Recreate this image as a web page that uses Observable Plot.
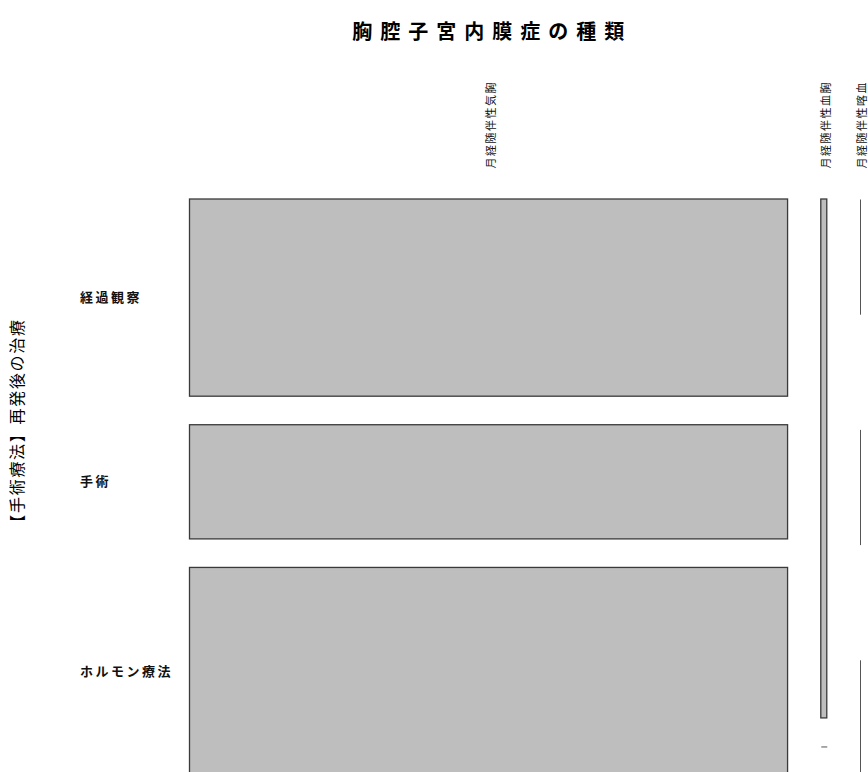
<!DOCTYPE html>
<html>
<head>
<meta charset="utf-8">
<script src="https://cdn.jsdelivr.net/npm/d3@7"></script>
<script src="https://cdn.jsdelivr.net/npm/@observablehq/plot@0.6"></script>
<style>
  body { margin: 0; background: #fff; overflow: hidden; }
</style>
</head>
<body>
<div id="chart"></div>
<script>
// ---- data ----
const title = "胸腔子宮内膜症の種類";
const yTitle = "【手術療法】再発後の治療";
const columns = ["月経随伴性気胸", "月経随伴性血胸", "月経随伴性喀血"];
const rows = ["経過観察", "手術", "ホルモン療法"];
const countsKikyo = [38, 22, 40];     // 月経随伴性気胸
const countsKekkyo = [1, 0, 0];       // 月経随伴性血胸
const countsKakketsu = [0, 0, 0];     // 月経随伴性喀血

// ---- mosaic layout (in relative data units) ----
const seriesByColumn = [countsKikyo, countsKekkyo, countsKakketsu];
const gap = 0.055;
const N = d3.sum(seriesByColumn.flat());
const xExt = 1 + gap * (columns.length - 1);
const yExt = 1 + gap * (rows.length - 1);

const cells = [], zeros = [], colLabels = [], rowLabels = [];
let cx = 0;
seriesByColumn.forEach((vals, i) => {
  const tot = d3.sum(vals);
  const x1 = cx, x2 = cx + tot / N;
  colLabels.push({label: columns[i], x: (x1 + x2) / 2});
  let cy = 0;
  vals.forEach((v, j) => {
    let y1, y2;
    if (tot === 0) {
      const p = yExt / (2 * rows.length - 1);
      y1 = 2 * j * p; y2 = y1 + p;
    } else {
      y1 = cy; y2 = cy + v / tot; cy = y2 + gap;
    }
    const cell = {col: columns[i], row: rows[j], value: v, x1, x2, y1, y2};
    if (x2 > x1 && y2 > y1) cells.push(cell); else zeros.push(cell);
    if (i === 0) rowLabels.push({label: rows[j], y: (y1 + y2) / 2});
  });
  cx = x2 + gap;
});

const plot = Plot.plot({
  width: 868,
  height: 772,
  marginTop: 199,
  marginLeft: 189.5,
  marginRight: 8,
  marginBottom: 0,
  style: {fontFamily: "'Noto Sans CJK JP', 'Noto Sans', sans-serif", background: "#fff", color: "#000"},
  x: {domain: [0, xExt], range: [189.5, 860], axis: null},
  y: {domain: [0, yExt], range: [199, 775], axis: null},
  marks: [
    Plot.rect(cells, {x1: "x1", x2: "x2", y1: "y1", y2: "y2", fill: "#bebebe", stroke: "#3a3a3a", strokeWidth: 1.3}),
    Plot.link(zeros, {x1: "x1", y1: "y1", x2: "x2", y2: "y2", stroke: "#555", strokeWidth: 1}),
    Plot.text(colLabels, {x: "x", text: "label", frameAnchor: "top", dx: -2, dy: -31, rotate: -90, textAnchor: "start", fontSize: 11, fill: "#111"}),
    Plot.text(rowLabels, {y: "y", text: "label", frameAnchor: "left", dx: -110, textAnchor: "start", fontSize: 13, fontWeight: "bold", fill: "#111"}),
    Plot.text([title], {text: d => d, frameAnchor: "top", dx: -33, dy: -175, fontSize: 20, fontWeight: "bold", fill: "#000"}),
    Plot.text([yTitle], {text: d => d, frameAnchor: "left", textAnchor: "middle", dx: -172.5, dy: -61.5, rotate: -90, fontSize: 16, fill: "#000"})
  ]
});

// letter spacing to match the wide glyph advance of the reference
d3.select(plot).selectAll("text").each(function() {
  const t = this.textContent;
  if (t === title) this.setAttribute("letter-spacing", "8");
  else if (t === yTitle) this.setAttribute("letter-spacing", "1.7");
  else if (rows.includes(t)) this.setAttribute("letter-spacing", "2.5");
  else if (columns.includes(t)) this.setAttribute("letter-spacing", "1.5");
});

document.getElementById("chart").appendChild(plot);
</script>
</body>
</html>
